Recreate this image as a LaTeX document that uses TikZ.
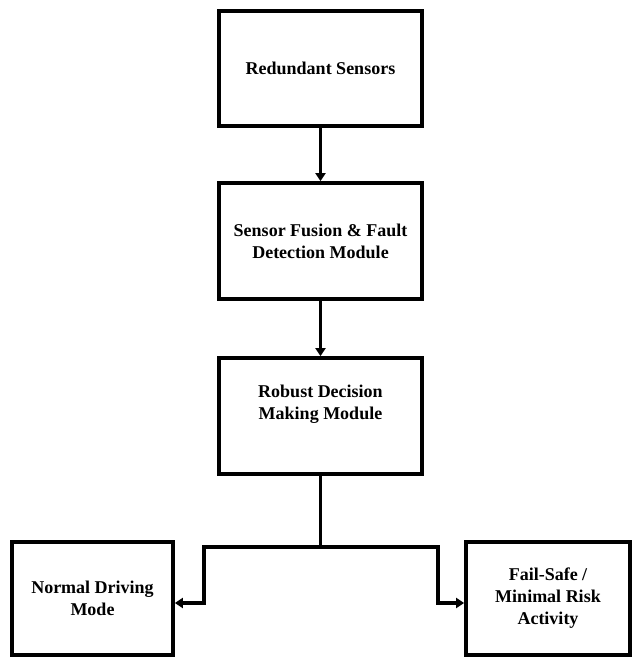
\documentclass[tikz,border=0pt]{standalone}
\usepackage{fontspec}
\setmainfont{Liberation Serif}
\usetikzlibrary{arrows.meta}
\begin{document}
\begin{tikzpicture}[x=1pt,y=-1pt,
  box/.style={draw=black,line width=3.8pt,fill=white,minimum width=203pt,align=center,
    font=\fontsize{18}{22}\selectfont\bfseries,inner sep=0pt},
  conn/.style={line width=3.4pt,draw=black},
  arr/.style={conn,-{Triangle[width=10pt,length=8pt]}},
  lbl/.style={align=center,font=\fontsize{18}{22}\selectfont\bfseries,inner sep=0pt}]
\useasboundingbox (0,0) rectangle (632,657);
\fill[white] (0,0) rectangle (632,657);
\node[box,minimum height=115pt] (b1) at (320.5,68.5) {Redundant Sensors};
\node[box,minimum height=116pt] (b2) at (320.5,241) {Sensor Fusion \& Fault\\Detection Module};
\node[box,minimum height=116pt] (b3) at (320.5,416) {};
\node[lbl] (b3t) at (320.5,404.5) {Robust Decision\\Making Module};
\node[box,minimum width=161pt,minimum height=113pt] (b4) at (92.5,598.5) {Normal Driving\\Mode};
\node[box,minimum width=164pt,minimum height=113pt] (b5) at (548,598.5) {Fail-Safe /\\Minimal Risk\\Activity};
\coordinate (sp) at (320.5,547);
\coordinate (lk) at (204,547);
\coordinate (rk) at (438,547);
\draw[arr] (b1.south) -- (b2.north);
\draw[arr] (b2.south) -- (b3.north);
\draw[conn] (b3.south) -- (sp);
\draw[arr,line join=miter] (sp) -- (lk) |- ([yshift=-4.5pt]b4.east);
\draw[arr,line join=miter] (sp) -- (rk) |- ([yshift=-4.5pt]b5.west);
\end{tikzpicture}
\end{document}
